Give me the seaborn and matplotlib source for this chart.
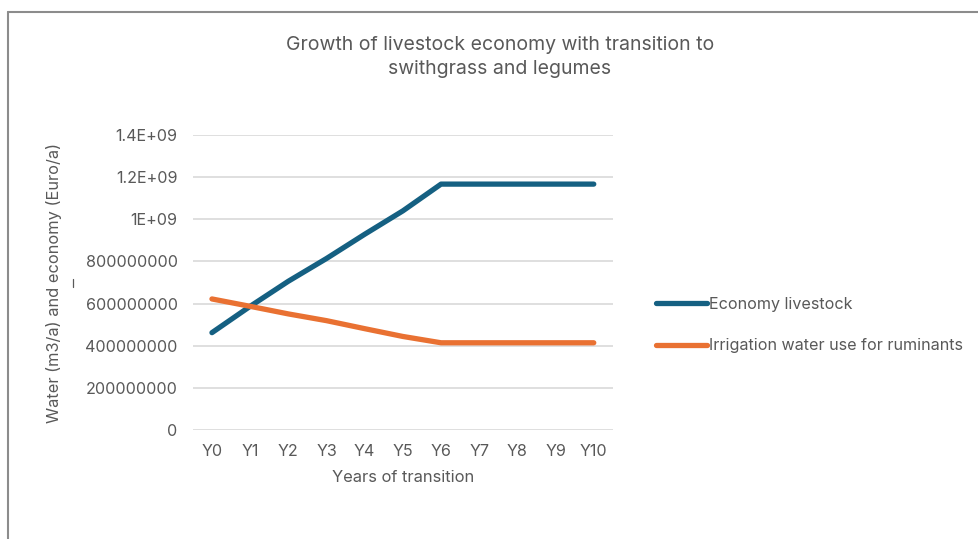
import matplotlib
matplotlib.use("Agg")
import matplotlib.pyplot as plt
from matplotlib.lines import Line2D
import seaborn as sns
import pandas as pd

years = ['Y0', 'Y1', 'Y2', 'Y3', 'Y4', 'Y5', 'Y6', 'Y7', 'Y8', 'Y9', 'Y10']
economy = [4.62e8, 5.87e8, 7.06e8, 8.14e8, 9.29e8, 1.04e9, 1.167e9, 1.167e9, 1.167e9, 1.167e9, 1.167e9]
irrigation = [6.22e8, 5.87e8, 5.51e8, 5.19e8, 4.81e8, 4.44e8, 4.14e8, 4.14e8, 4.14e8, 4.14e8, 4.14e8]
series_names = ['Economy livestock', 'Irrigation water use for ruminants']
y_ticks = [0, 2e8, 4e8, 6e8, 8e8, 1e9, 1.2e9, 1.4e9]
y_tick_labels = ['0', '200000000', '400000000', '600000000', '800000000', '1E+09', '1.2E+09', '1.4E+09']

df = pd.DataFrame({
    'year': years * 2,
    'value': economy + irrigation,
    'series': [series_names[0]] * len(years) + [series_names[1]] * len(years),
})

sns.set_theme(style='white')
plt.rcParams['font.family'] = ['Inter', 'DejaVu Sans']
text_col = '#595959'

fig = plt.figure(figsize=(9.79, 5.39), dpi=100)
ax = fig.add_axes([0.197, 0.2022, 0.429, 0.5473])

sns.lineplot(data=df, x='year', y='value', hue='series', ax=ax,
             palette=['#156082', '#E97132'], linewidth=3.8, sort=False,
             legend=True)

ax.set_xlim(-0.5, len(years) - 0.5)
ax.set_ylim(0, 1.4e9)
ax.set_yticks(y_ticks)
ax.set_yticklabels(y_tick_labels)
ax.grid(axis='y', color='#d9d9d9', linewidth=1.2)
ax.set_axisbelow(True)
for s in ax.spines.values():
    s.set_visible(False)
ax.tick_params(axis='both', length=0, labelsize=11.6, labelcolor=text_col)
ax.tick_params(axis='y', pad=11)
ax.tick_params(axis='x', pad=10)

ax.set_xlabel('Years of transition', fontsize=11.9, color=text_col, labelpad=8)
ax.set_ylabel('Water (m3/a) and economy (Euro/a)', fontsize=11.8, color=text_col, labelpad=17)
fig.text(500 / 979, 1 - 57 / 539, 'Growth of livestock economy with transition to\nswithgrass and legumes',
         fontsize=14, color=text_col, ha='center', va='center', linespacing=1.4)

handles, labels = ax.get_legend_handles_labels()
ax.legend(handles, labels, loc='center left', bbox_to_anchor=(0.655, 1 - 325 / 539),
          bbox_transform=fig.transFigure, frameon=False, fontsize=11.6,
          labelcolor=text_col, handlelength=3.2, handletextpad=0.1, labelspacing=1.65)

# chart area frame (left and top edges visible)
fig.add_artist(Line2D([8 / 979, 8 / 979], [0, 1 - 12 / 539], transform=fig.transFigure,
                      color='#8c8c8c', linewidth=1.5))
fig.add_artist(Line2D([8 / 979, 1], [1 - 12 / 539, 1 - 12 / 539], transform=fig.transFigure,
                      color='#8c8c8c', linewidth=1.5))
fig.add_artist(Line2D([73 / 979, 73 / 979], [1 - 287 / 539, 1 - 279 / 539], transform=fig.transFigure,
                      color=text_col, linewidth=0.9))

fig.savefig('out.png', dpi=100)
